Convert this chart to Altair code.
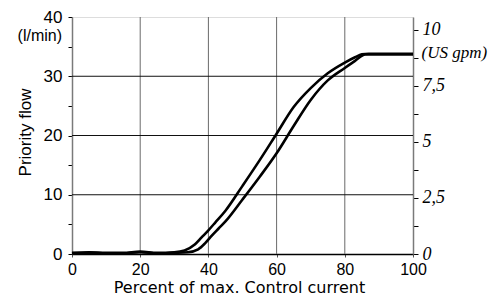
import altair as alt
import pandas as pd

# Upper (rising-left) curve
up_x = [0, 5, 10, 15, 20, 25, 30, 33, 36, 38, 40, 42, 45, 50, 55, 60, 65, 70, 75, 80, 83, 85, 87, 100]
up_y = [0.2, 0.3, 0.2, 0.2, 0.4, 0.2, 0.3, 0.6, 1.6, 2.8, 4.0, 5.3, 7.3, 11.5, 15.8, 20.3, 24.8, 28.0, 30.5, 32.3, 33.2, 33.7, 33.8, 33.8]
# Lower (right) curve
lo_x = [0, 5, 10, 15, 20, 25, 30, 34, 37, 39, 41, 43, 45, 50, 55, 60, 65, 70, 75, 80, 83, 86, 100]
lo_y = [0.1, 0.2, 0.1, 0.1, 0.3, 0.1, 0.2, 0.3, 0.8, 1.8, 3.1, 4.3, 5.5, 9.2, 13.0, 17.0, 21.6, 26.0, 29.3, 31.4, 32.6, 33.7, 33.7]

x_ticks = [0, 20, 40, 60, 80, 100]
y_ticks = [0, 5, 10, 15, 20, 25, 30, 35, 40]
x_grid = [20, 40, 60, 80]
y_grid = [10, 20, 30]
gpm_ticks = [0, 1.25, 2.5, 3.75, 5, 6.25, 7.5, 8.75, 10]
LPM_PER_GPM = 3.785412

df = pd.concat([
    pd.DataFrame({"x": up_x, "y": up_y, "s": "up"}),
    pd.DataFrame({"x": lo_x, "y": lo_y, "s": "down"}),
])

xs = alt.Scale(domain=[0, 100], nice=False, zero=False)
ys = alt.Scale(domain=[0, 40], nice=False, zero=False)

x_axis = alt.Axis(
    values=x_ticks, title="Percent of max. Control current", grid=False, tickSize=3,
    tickColor="#555555", labelFlush=False,
    domainColor="black", domainWidth=1.5, labelFont="Liberation Sans", labelFontSize=16,
    labelColor="black", labelPadding=4, titleFont="DejaVu Sans", titleFontSize=16,
    titleFontWeight="normal", titleColor="black", titlePadding=2, titleX=167)
y_axis = alt.Axis(
    values=y_ticks, labelExpr="datum.value % 10 == 0 ? datum.label : ''",
    title="Priority flow", grid=False, tickSize=4, tickColor="black", labelFlush=False,
    domainColor="#7a7a7a", domainWidth=1.5, labelFont="Liberation Sans", labelFontSize=17,
    labelColor="black", labelPadding=6, titleFont="Liberation Sans", titleFontSize=17,
    titleFontWeight="normal", titleColor="black", titleAngle=-90, titleBaseline="middle",
    titleAlign="center", titleX=-47, titleY=115)

lines = alt.Chart(df).mark_line(color="black", strokeWidth=2.6, interpolate="monotone").encode(
    x=alt.X("x:Q", scale=xs, axis=x_axis),
    y=alt.Y("y:Q", scale=ys, axis=y_axis),
    detail="s:N",
)

xgrid = alt.Chart(pd.DataFrame({"x": x_grid})).mark_rule(color="#6a6a6a", strokeWidth=1).encode(
    x=alt.X("x:Q", scale=xs, axis=x_axis))
ygrid = alt.Chart(pd.DataFrame({"y": y_grid})).mark_rule(color="#111111", strokeWidth=1).encode(
    y=alt.Y("y:Q", scale=ys, axis=y_axis))

lpm_label = alt.Chart(pd.DataFrame({"t": ["(l/min)"]})).mark_text(
    font="Liberation Sans", fontSize=16, align="right", baseline="middle", color="black"
).encode(text="t:N", x=alt.value(-10), y=alt.value(19))

right = alt.Chart(pd.DataFrame({"g": gpm_ticks})).mark_point(opacity=0).encode(
    y=alt.Y("g:Q", scale=alt.Scale(domain=[0, 40 / LPM_PER_GPM], nice=False, zero=False),
            axis=alt.Axis(orient="right", values=gpm_ticks, labelFlush=False,
                          labelExpr="datum.value % 2.5 == 0 ? replace(toString(datum.value), '.', ',') : ''",
                          grid=False, tickSize=5, tickColor="black", domainColor="#7a7a7a",
                          domainWidth=1.5, labelFont="Liberation Serif", labelFontStyle="italic",
                          labelFontSize=18, labelColor="black", labelPadding=4,
                          title="(US gpm)", titleFont="Liberation Serif", titleFontStyle="italic",
                          titleFontSize=17, titleFontWeight="normal", titleColor="black",
                          titleAngle=0, titleAlign="left", titleBaseline="middle",
                          titleX=8, titleY=35)),
)

left = alt.layer(xgrid, ygrid, lines, lpm_label)

chart = alt.layer(left, right).resolve_scale(y="independent").properties(
    width=341, height=237,
    autosize=alt.AutoSizeParams(type="none"),
    padding={"left": 64, "top": 9, "right": 77, "bottom": 41},
).configure_view(stroke="black", strokeWidth=1).configure(background="white")

chart.save("out.html", embed_options={"renderer": "svg", "actions": False})
